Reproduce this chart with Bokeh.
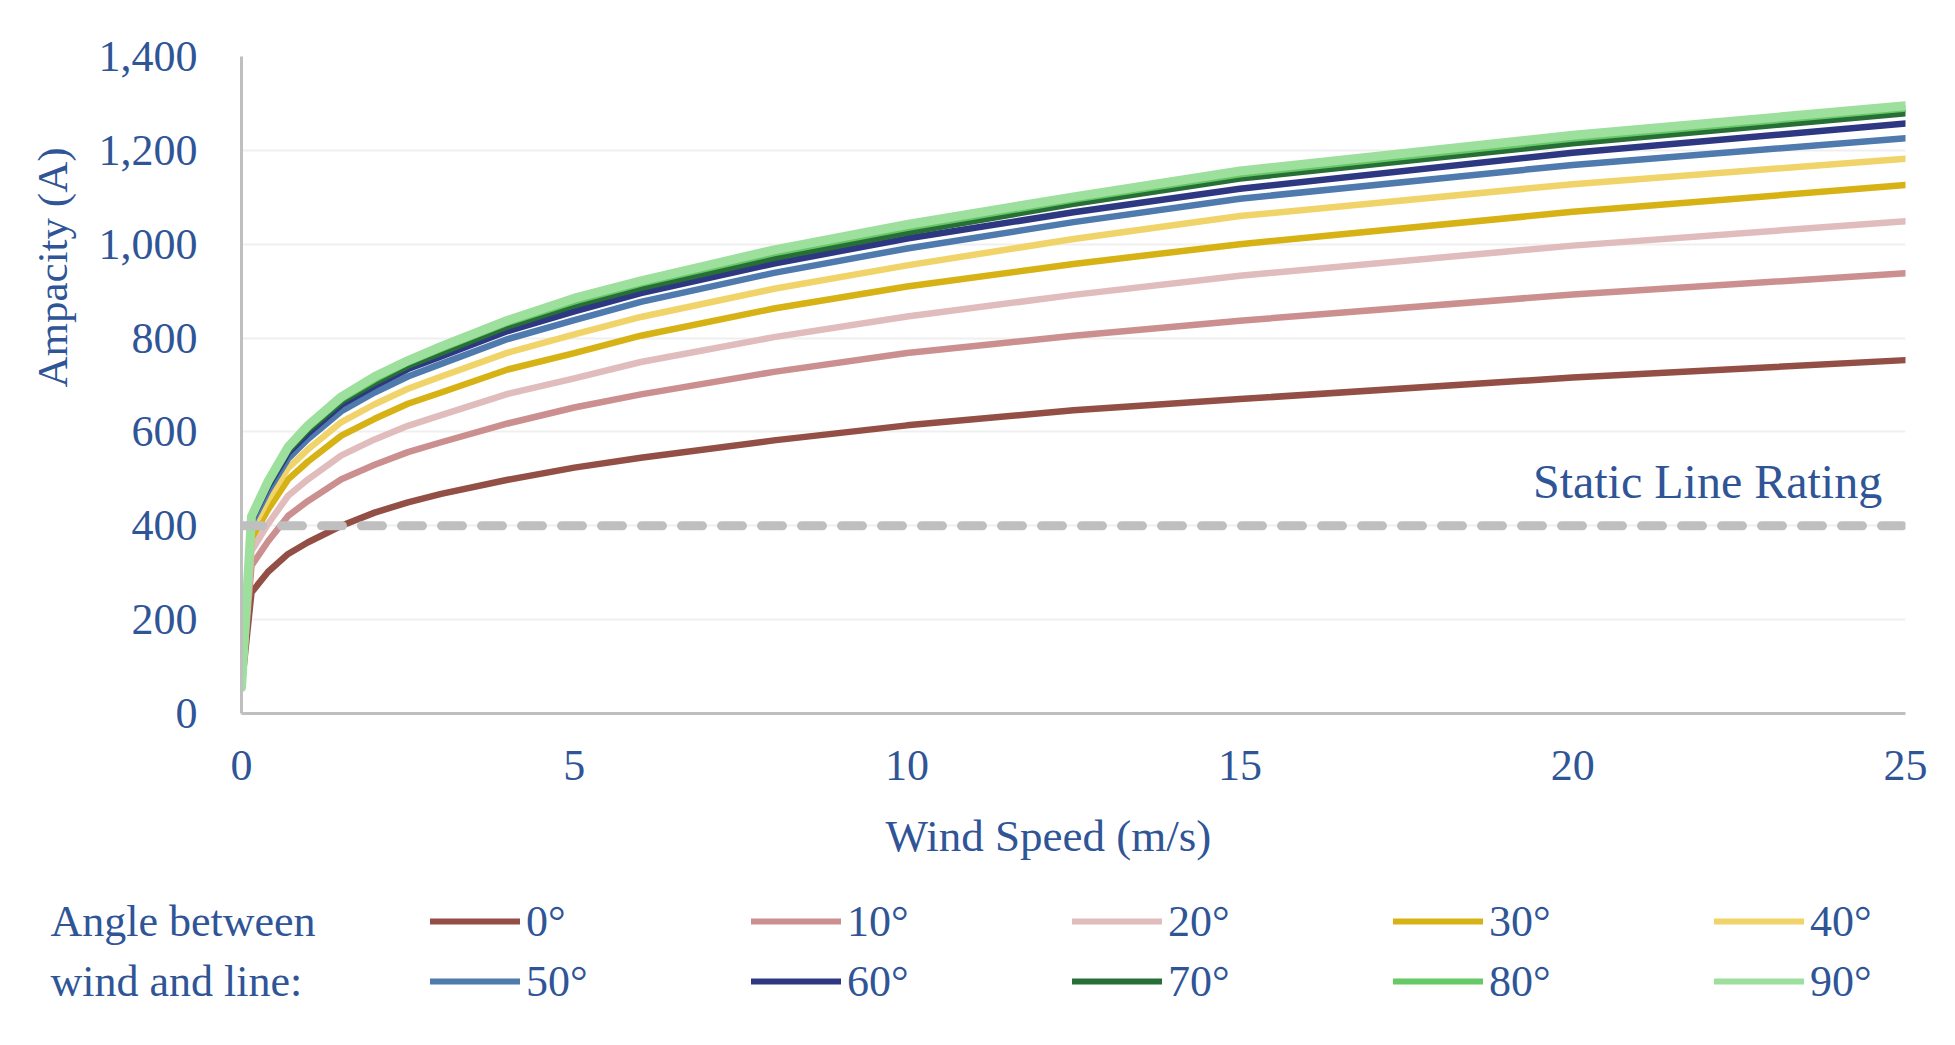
from bokeh.plotting import figure
from bokeh.models import Range1d, Legend, LegendItem, Label, NumeralTickFormatter, Title
from bokeh.layouts import column
from bokeh.embed import file_html
from bokeh.resources import INLINE

# ---------------- data ----------------
wind_speed = [0, 0.15, 0.4, 0.7, 1, 1.5, 2, 2.5, 3, 4, 5, 6, 8, 10, 12.5, 15, 20, 25]

angle_labels = ["0°", "10°", "20°", "30°", "40°", "50°", "60°", "70°", "80°", "90°"]

amp_0  = [55, 258, 302, 340, 365, 400, 428, 450, 468, 498, 524, 545, 582, 614, 646, 670, 716, 753]
amp_10 = [55, 315, 367, 421, 453, 499, 530, 557, 578, 618, 652, 680, 728, 768, 805, 837, 893, 938]
amp_20 = [55, 346, 404, 464, 499, 550, 584, 613, 636, 681, 714, 749, 802, 846, 892, 933, 997, 1049]
amp_30 = [55, 372, 435, 499, 537, 592, 628, 660, 684, 733, 768, 805, 863, 910, 958, 1000, 1069, 1126]
amp_40 = [55, 390, 456, 523, 563, 621, 659, 692, 718, 769, 808, 845, 905, 955, 1011, 1060, 1128, 1182]
amp_50 = [55, 405, 474, 543, 585, 644, 684, 718, 745, 798, 838, 877, 939, 991, 1047, 1097, 1169, 1226]
amp_60 = [55, 413, 484, 555, 597, 658, 698, 734, 761, 815, 857, 896, 959, 1012, 1068, 1118, 1195, 1257]
amp_70 = [55, 416, 488, 560, 604, 665, 705, 741, 769, 825, 870, 907, 971, 1025, 1086, 1140, 1215, 1279]
amp_80 = [55, 418, 492, 565, 609, 670, 712, 748, 777, 833, 878, 916, 981, 1035, 1095, 1149, 1225, 1289]
amp_90 = [55, 420, 495, 568, 614, 675, 718, 752, 782, 838, 885, 922, 988, 1042, 1101, 1156, 1232, 1295]

series = [amp_0, amp_10, amp_20, amp_30, amp_40, amp_50, amp_60, amp_70, amp_80, amp_90]

static_rating = 400
y_ticks = [0, 200, 400, 600, 800, 1000, 1200, 1400]
x_ticks = [0, 5, 10, 15, 20, 25]
legend_title = ["Angle between", "wind and line:"]

# ---------------- styling ----------------
colors = ["#934F45", "#CC8F8F", "#E0BCBC", "#D7B214", "#F0D46A",
          "#4E7AAE", "#2E3882", "#276F36", "#66C966", "#9DDF9D"]
widths = [6.5, 6.5, 6.5, 6.5, 6.5, 6.5, 6.5, 6.5, 6.5, 9]
FONT = "Liberation Serif"
TEXT = "#2F5597"

MAIN_H = 886
LEG_H = 1045 - MAIN_H

p = figure(width=1955, height=MAIN_H, output_backend="svg", toolbar_location=None,
           x_range=Range1d(0, 25), y_range=Range1d(0, 1400),
           min_border_left=241, min_border_right=50, min_border_top=56,
           min_border_bottom=MAIN_H - 713)
p.frame_align = False
p.outline_line_color = None
p.background_fill_color = "white"
p.border_fill_color = "white"

p.xgrid.grid_line_color = None
p.ygrid.grid_line_color = "#EFEFEF"
p.ygrid.grid_line_width = 2

for ax in (p.xaxis[0], p.yaxis[0]):
    ax.axis_line_color = "#BFBFBF"
    ax.axis_line_width = 3
    ax.major_tick_line_color = None
    ax.minor_tick_line_color = None
    ax.major_label_text_font = FONT
    ax.major_label_text_font_size = "44px"
    ax.major_label_text_color = TEXT

p.yaxis.ticker = y_ticks
p.xaxis.ticker = x_ticks
p.yaxis.formatter = NumeralTickFormatter(format="0,0")
p.yaxis.major_label_standoff = 38
p.xaxis.major_label_standoff = 31

# axis titles (as side titles so they can sit off-centre like the reference)
p.add_layout(Title(text="Ampacity (A)", align="right", offset=91, standoff=40,
                   text_font=FONT, text_font_size="43px", text_font_style="normal",
                   text_color=TEXT), "left")
p.add_layout(Title(text="Wind Speed (m/s)", align="left", offset=644, standoff=52,
                   text_font=FONT, text_font_size="45px", text_font_style="normal",
                   text_color=TEXT), "below")

for vals, c, w in zip(series, colors, widths):
    p.line(wind_speed, vals, line_color=c, line_width=w,
           line_join="round", line_cap="round")

p.line([x_ticks[0], x_ticks[-1]], [static_rating, static_rating],
       line_color="#BFBFBF", line_width=9, line_dash="21 19", line_cap="round")

p.add_layout(Label(x=24.65, y=495, text="Static Line Rating", text_align="right",
                   text_baseline="middle", text_font=FONT, text_font_size="48px",
                   text_color=TEXT))

# ---------------- legend strip ----------------
# the strip's ranges lie below every series value, so its lines stay hidden and
# only serve as legend swatches
q = figure(width=1955, height=LEG_H, output_backend="svg", toolbar_location=None,
           x_range=Range1d(0, 1), y_range=Range1d(-2, -1),
           min_border=0, x_axis_location=None, y_axis_location=None)
q.frame_align = False
q.outline_line_color = None
q.grid.grid_line_color = None
q.border_fill_color = "white"
q.background_fill_color = "white"

leg_renderers = []
for vals, c in zip(series, colors):
    leg_renderers.append(q.line(wind_speed, vals, line_color=c, line_width=6, line_cap="round"))

legend = Legend(items=[LegendItem(label=l, renderers=[r]) for l, r in zip(angle_labels, leg_renderers)],
                ncols=5, orientation="horizontal", location=(430, 38),
                glyph_width=90, glyph_height=52, label_standoff=6, label_width=217,
                spacing=8, padding=0, margin=0, border_line_color=None,
                background_fill_alpha=0, label_text_font=FONT,
                label_text_font_size="44px", label_text_color=TEXT,
                label_text_baseline="middle")
q.add_layout(legend)

for txt, yy in zip(legend_title, (124, 64)):
    q.add_layout(Label(x=50, y=yy, x_units="screen", y_units="screen", text=txt,
                       text_baseline="middle", text_font=FONT, text_font_size="44px",
                       text_color=TEXT))

layout = column(p, q, spacing=0)
open("out.html", "w").write(file_html(layout, INLINE))
